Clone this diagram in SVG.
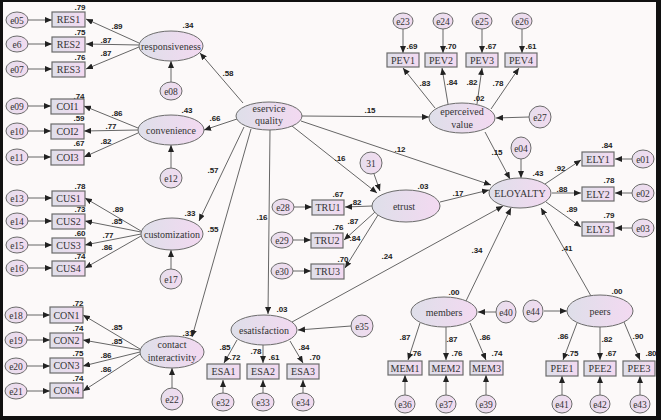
<svg xmlns="http://www.w3.org/2000/svg" width="661" height="420" viewBox="0 0 661 420">
<defs>
<linearGradient id="g" x1="0" y1="0" x2="1" y2="0">
<stop offset="0" stop-color="#dedfe9"/>
<stop offset="1" stop-color="#f3d9f1"/>
</linearGradient>
<linearGradient id="ge" x1="0" y1="0" x2="1" y2="0">
<stop offset="0" stop-color="#e6deec"/>
<stop offset="1" stop-color="#f2dbf0"/>
</linearGradient>
<marker id="a" markerUnits="userSpaceOnUse" markerWidth="7" markerHeight="6" refX="7" refY="3" orient="auto">
<path d="M0,0 L7,3 L0,6 z" fill="#222"/>
</marker>
</defs>
<style>
.lv{fill:url(#g);stroke:#6b6b6b;stroke-width:1}
.er{fill:url(#ge);stroke:#6b6b6b;stroke-width:1}
.bx{fill:url(#g);stroke:#6b6b6b;stroke-width:1.2}
.t{font-family:"Liberation Serif","DejaVu Serif",serif;font-size:10px;fill:#333;text-anchor:middle}
.te{font-family:"Liberation Serif","DejaVu Serif",serif;font-size:9.5px;fill:#333;text-anchor:middle}
.c{font-family:"Liberation Sans",Arial,sans-serif;font-size:8px;font-weight:bold;fill:#222;text-anchor:middle}
.ln{stroke:#666;stroke-width:1;fill:none;marker-end:url(#a)}
</style>
<rect x="0" y="0" width="661" height="420" fill="#111"/>
<rect x="3" y="2" width="653" height="414" fill="#fcf9f9"/>

<g id="connectors">
<line class="ln" x1="28" y1="20" x2="52" y2="20"/>
<line class="ln" x1="28" y1="44" x2="52" y2="44"/>
<line class="ln" x1="28" y1="69" x2="52" y2="69"/>
<line class="ln" x1="28" y1="106" x2="51" y2="106"/>
<line class="ln" x1="28" y1="131" x2="51" y2="131"/>
<line class="ln" x1="28" y1="157" x2="51" y2="157"/>
<line class="ln" x1="28" y1="198" x2="52" y2="198"/>
<line class="ln" x1="28" y1="221" x2="52" y2="221"/>
<line class="ln" x1="28" y1="245" x2="52" y2="245"/>
<line class="ln" x1="28" y1="268" x2="52" y2="268"/>
<line class="ln" x1="27" y1="315" x2="50" y2="315"/>
<line class="ln" x1="27" y1="340" x2="50" y2="340"/>
<line class="ln" x1="27" y1="366" x2="50" y2="366"/>
<line class="ln" x1="27" y1="391" x2="50" y2="391"/>
<line class="ln" x1="139" y1="43" x2="86" y2="19"/>
<line class="ln" x1="139" y1="45" x2="86" y2="44"/>
<line class="ln" x1="139" y1="47" x2="86" y2="69"/>
<line class="ln" x1="138" y1="128" x2="84" y2="106"/>
<line class="ln" x1="138" y1="130" x2="84" y2="131"/>
<line class="ln" x1="138" y1="133" x2="84" y2="157"/>
<line class="ln" x1="141" y1="231" x2="85" y2="198"/>
<line class="ln" x1="141" y1="232" x2="85" y2="221"/>
<line class="ln" x1="141" y1="234" x2="85" y2="245"/>
<line class="ln" x1="141" y1="236" x2="85" y2="268"/>
<line class="ln" x1="140" y1="349" x2="83" y2="315"/>
<line class="ln" x1="140" y1="350" x2="83" y2="340"/>
<line class="ln" x1="140" y1="352" x2="83" y2="366"/>
<line class="ln" x1="140" y1="354" x2="83" y2="391"/>
<line class="ln" x1="171" y1="82" x2="171" y2="61"/>
<line class="ln" x1="171" y1="168" x2="171" y2="145"/>
<line class="ln" x1="171" y1="269" x2="171" y2="250"/>
<line class="ln" x1="172" y1="388" x2="172" y2="368"/>
<line class="ln" x1="243" y1="103" x2="200" y2="53"/>
<line class="ln" x1="237" y1="119" x2="204" y2="130"/>
<line class="ln" x1="244" y1="127" x2="199" y2="221"/>
<line class="ln" x1="251" y1="129" x2="192" y2="337"/>
<line class="ln" x1="270" y1="130" x2="268" y2="314"/>
<line class="ln" x1="292" y1="126" x2="377" y2="193"/>
<line class="ln" x1="302" y1="116" x2="429" y2="117"/>
<line class="ln" x1="301" y1="121" x2="491" y2="185"/>
<line class="ln" x1="403" y1="29" x2="403" y2="53"/>
<line class="ln" x1="443" y1="29" x2="443" y2="53"/>
<line class="ln" x1="482" y1="29" x2="482" y2="53"/>
<line class="ln" x1="522" y1="29" x2="522" y2="53"/>
<line class="ln" x1="435" y1="108" x2="403" y2="68"/>
<line class="ln" x1="448" y1="104" x2="442" y2="68"/>
<line class="ln" x1="477" y1="104" x2="482" y2="68"/>
<line class="ln" x1="491" y1="109" x2="519" y2="68"/>
<line class="ln" x1="529" y1="117" x2="496" y2="118"/>
<line class="ln" x1="485" y1="132" x2="510" y2="179"/>
<line class="ln" x1="374" y1="174" x2="380" y2="191"/>
<line class="ln" x1="372" y1="206" x2="345" y2="207"/>
<line class="ln" x1="375" y1="212" x2="344" y2="240"/>
<line class="ln" x1="378" y1="215" x2="345" y2="268"/>
<line class="ln" x1="294" y1="207" x2="312" y2="207"/>
<line class="ln" x1="293" y1="240" x2="311" y2="240"/>
<line class="ln" x1="293" y1="271" x2="311" y2="271"/>
<line class="ln" x1="440" y1="202" x2="489" y2="190"/>
<line class="ln" x1="292" y1="322" x2="503" y2="206"/>
<line class="ln" x1="351" y1="326" x2="298" y2="330"/>
<line class="ln" x1="237" y1="340" x2="224" y2="363"/>
<line class="ln" x1="263" y1="345" x2="263" y2="363"/>
<line class="ln" x1="290" y1="341" x2="303" y2="363"/>
<line class="ln" x1="223" y1="394" x2="223" y2="380"/>
<line class="ln" x1="263" y1="394" x2="263" y2="380"/>
<line class="ln" x1="303" y1="394" x2="303" y2="380"/>
<line class="ln" x1="521" y1="159" x2="521" y2="178"/>
<line class="ln" x1="545" y1="184" x2="581" y2="160"/>
<line class="ln" x1="552" y1="193" x2="581" y2="193"/>
<line class="ln" x1="546" y1="202" x2="581" y2="227"/>
<line class="ln" x1="632" y1="159" x2="615" y2="159"/>
<line class="ln" x1="632" y1="193" x2="615" y2="193"/>
<line class="ln" x1="632" y1="228" x2="615" y2="228"/>
<line class="ln" x1="466" y1="301" x2="511" y2="208"/>
<line class="ln" x1="591" y1="296" x2="541" y2="208"/>
<line class="ln" x1="496" y1="312" x2="478" y2="312"/>
<line class="ln" x1="544" y1="311" x2="567" y2="311"/>
<line class="ln" x1="420" y1="323" x2="408" y2="360"/>
<line class="ln" x1="446" y1="327" x2="446" y2="360"/>
<line class="ln" x1="470" y1="323" x2="486" y2="360"/>
<line class="ln" x1="577" y1="323" x2="563" y2="360"/>
<line class="ln" x1="600" y1="327" x2="600" y2="360"/>
<line class="ln" x1="624" y1="322" x2="640" y2="360"/>
<line class="ln" x1="405" y1="395" x2="405" y2="375"/>
<line class="ln" x1="446" y1="395" x2="446" y2="375"/>
<line class="ln" x1="486" y1="395" x2="486" y2="375"/>
<line class="ln" x1="562" y1="395" x2="562" y2="376"/>
<line class="ln" x1="600" y1="395" x2="600" y2="376"/>
<line class="ln" x1="640" y1="395" x2="640" y2="376"/>
</g>

<g id="coefficients">
<text class="c" x="80" y="10">.79</text><text class="c" x="80" y="35">.75</text><text class="c" x="80" y="60">.76</text>
<text class="c" x="117" y="29">.89</text><text class="c" x="106" y="43">.87</text><text class="c" x="106" y="56">.87</text>
<text class="c" x="188" y="28">.34</text>
<text class="c" x="79" y="99">.74</text><text class="c" x="79" y="121">.59</text><text class="c" x="79" y="146">.67</text>
<text class="c" x="117" y="116">.86</text><text class="c" x="111" y="129">.77</text><text class="c" x="106" y="144">.82</text>
<text class="c" x="187" y="113">.43</text><text class="c" x="215" y="121">.66</text>
<text class="c" x="80" y="189">.78</text><text class="c" x="80" y="212">.73</text><text class="c" x="80" y="236">.60</text><text class="c" x="80" y="259">.74</text>
<text class="c" x="118" y="212">.89</text><text class="c" x="117" y="224">.85</text><text class="c" x="108" y="238">.77</text><text class="c" x="107" y="250">.86</text>
<text class="c" x="190" y="216">.33</text><text class="c" x="213" y="173">.57</text><text class="c" x="213" y="232">.55</text>
<text class="c" x="78" y="306">.72</text><text class="c" x="78" y="331">.74</text><text class="c" x="78" y="356">.75</text><text class="c" x="78" y="381">.74</text>
<text class="c" x="117" y="330">.85</text><text class="c" x="117" y="344">.85</text><text class="c" x="106" y="358">.86</text><text class="c" x="106" y="372">.86</text>
<text class="c" x="188" y="336">.31</text>
<text class="c" x="228" y="76">.58</text><text class="c" x="370" y="113">.15</text><text class="c" x="400" y="152">.12</text>
<text class="c" x="340" y="161">.16</text><text class="c" x="262" y="220">.16</text>
<text class="c" x="423" y="189">.03</text><text class="c" x="338" y="197">.67</text><text class="c" x="356" y="205">.82</text>
<text class="c" x="353" y="224">.87</text><text class="c" x="338" y="230">.76</text><text class="c" x="355" y="241">.84</text><text class="c" x="343" y="262">.70</text>
<text class="c" x="458" y="196">.17</text><text class="c" x="387" y="259">.24</text>
<text class="c" x="282" y="312">.03</text><text class="c" x="225" y="350">.85</text><text class="c" x="235" y="360">.72</text>
<text class="c" x="256" y="354">.78</text><text class="c" x="274" y="360">.61</text><text class="c" x="304" y="350">.84</text><text class="c" x="315" y="360">.70</text>
<text class="c" x="412" y="49">.69</text><text class="c" x="451" y="49">.70</text><text class="c" x="491" y="49">.67</text><text class="c" x="531" y="49">.61</text>
<text class="c" x="425" y="86">.83</text><text class="c" x="452" y="85">.84</text><text class="c" x="472" y="85">.82</text><text class="c" x="498" y="86">.78</text>
<text class="c" x="479" y="101">.02</text>
<text class="c" x="538" y="176">.43</text><text class="c" x="497" y="155">.15</text>
<text class="c" x="560" y="171">.92</text><text class="c" x="562" y="192">.88</text><text class="c" x="572" y="212">.89</text>
<text class="c" x="607" y="148">.84</text><text class="c" x="609" y="183">.78</text><text class="c" x="609" y="218">.79</text>
<text class="c" x="454" y="295">.00</text><text class="c" x="477" y="253">.34</text>
<text class="c" x="416" y="356">.76</text><text class="c" x="457" y="356">.76</text><text class="c" x="497" y="356">.74</text>
<text class="c" x="405" y="340">.87</text><text class="c" x="452" y="342">.87</text><text class="c" x="485" y="340">.86</text>
<text class="c" x="617" y="294">.00</text><text class="c" x="567" y="251">.41</text>
<text class="c" x="573" y="356">.75</text><text class="c" x="611" y="356">.67</text><text class="c" x="651" y="356">.80</text>
<text class="c" x="563" y="339">.86</text><text class="c" x="607" y="342">.82</text><text class="c" x="638" y="339">.90</text>
</g>

<g id="responsiveness"><ellipse class="lv" cx="171" cy="46" rx="32" ry="15"/><text class="t" x="171" y="49.5">responsiveness</text></g>
<g id="convenience"><ellipse class="lv" cx="171" cy="130" rx="33" ry="15"/><text class="t" x="171" y="133.5">convenience</text></g>
<g id="customization"><ellipse class="lv" cx="172" cy="234" rx="31" ry="16"/><text class="t" x="172" y="237.5">customization</text></g>
<g id="contact"><ellipse class="lv" cx="172" cy="352" rx="32" ry="16"/><text class="t" x="172" y="348">contact</text><text class="t" x="172" y="361">interactivity</text></g>
<g id="eservice"><ellipse class="lv" cx="269" cy="116" rx="33" ry="14"/><text class="t" x="269" y="112">eservice</text><text class="t" x="269" y="124">quality</text></g>
<g id="eperceived"><ellipse class="lv" cx="462" cy="118" rx="33" ry="15"/><text class="t" x="462" y="115">eperceived</text><text class="t" x="462" y="127.5">value</text></g>
<g id="etrust"><ellipse class="lv" cx="406" cy="206" rx="34" ry="16"/><text class="t" x="404" y="209.5">etrust</text></g>
<g id="eloyalty"><ellipse class="lv" cx="520" cy="193" rx="31" ry="15"/><text class="t" x="520" y="196.5">ELOYALTY</text></g>
<g id="esatisfaction"><ellipse class="lv" cx="264" cy="330" rx="33" ry="15"/><text class="t" x="264" y="333.5">esatisfaction</text></g>
<g id="members"><ellipse class="lv" cx="444" cy="312" rx="33" ry="15"/><text class="t" x="444" y="315.5">members</text></g>
<g id="peers"><ellipse class="lv" cx="600" cy="311" rx="33" ry="16"/><text class="t" x="600" y="314.5">peers</text></g>

<g id="RES1"><rect class="bx" x="52" y="12" width="33" height="15"/><text class="t" x="68.5" y="23">RES1</text></g>
<g id="RES2"><rect class="bx" x="52" y="37" width="33" height="15"/><text class="t" x="68.5" y="48">RES2</text></g>
<g id="RES3"><rect class="bx" x="52" y="62" width="33" height="15"/><text class="t" x="68.5" y="73">RES3</text></g>
<g id="COI1"><rect class="bx" x="51" y="99" width="33" height="15"/><text class="t" x="67.5" y="110">COI1</text></g>
<g id="COI2"><rect class="bx" x="51" y="124" width="33" height="15"/><text class="t" x="67.5" y="135">COI2</text></g>
<g id="COI3"><rect class="bx" x="51" y="150" width="33" height="15"/><text class="t" x="67.5" y="161">COI3</text></g>
<g id="CUS1"><rect class="bx" x="52" y="191" width="33" height="15"/><text class="t" x="68.5" y="202">CUS1</text></g>
<g id="CUS2"><rect class="bx" x="52" y="214" width="33" height="15"/><text class="t" x="68.5" y="225">CUS2</text></g>
<g id="CUS3"><rect class="bx" x="52" y="238" width="33" height="15"/><text class="t" x="68.5" y="249">CUS3</text></g>
<g id="CUS4"><rect class="bx" x="52" y="261" width="33" height="15"/><text class="t" x="68.5" y="272">CUS4</text></g>
<g id="CON1"><rect class="bx" x="50" y="307" width="33" height="16"/><text class="t" x="66.5" y="318.5">CON1</text></g>
<g id="CON2"><rect class="bx" x="50" y="333" width="33" height="15"/><text class="t" x="66.5" y="344">CON2</text></g>
<g id="CON3"><rect class="bx" x="50" y="358" width="33" height="15"/><text class="t" x="66.5" y="369">CON3</text></g>
<g id="CON4"><rect class="bx" x="50" y="383" width="33" height="15"/><text class="t" x="66.5" y="394">CON4</text></g>
<g id="PEV1"><rect class="bx" x="387" y="53" width="32" height="14"/><text class="t" x="403" y="63.5">PEV1</text></g>
<g id="PEV2"><rect class="bx" x="425" y="53" width="32" height="14"/><text class="t" x="441" y="63.5">PEV2</text></g>
<g id="PEV3"><rect class="bx" x="466" y="53" width="32" height="14"/><text class="t" x="482" y="63.5">PEV3</text></g>
<g id="PEV4"><rect class="bx" x="505" y="53" width="32" height="14"/><text class="t" x="521" y="63.5">PEV4</text></g>
<g id="ELY1"><rect class="bx" x="582" y="152" width="32" height="14"/><text class="t" x="598" y="162.5">ELY1</text></g>
<g id="ELY2"><rect class="bx" x="582" y="187" width="32" height="14"/><text class="t" x="598" y="197.5">ELY2</text></g>
<g id="ELY3"><rect class="bx" x="582" y="222" width="32" height="14"/><text class="t" x="598" y="232.5">ELY3</text></g>
<g id="TRU1"><rect class="bx" x="312" y="200" width="32" height="15"/><text class="t" x="328" y="211">TRU1</text></g>
<g id="TRU2"><rect class="bx" x="311" y="233" width="32" height="15"/><text class="t" x="327" y="244">TRU2</text></g>
<g id="TRU3"><rect class="bx" x="311" y="264" width="33" height="15"/><text class="t" x="327.5" y="275">TRU3</text></g>
<g id="ESA1"><rect class="bx" x="207" y="364" width="33" height="15"/><text class="t" x="223.5" y="375">ESA1</text></g>
<g id="ESA2"><rect class="bx" x="247" y="364" width="32" height="15"/><text class="t" x="263" y="375">ESA2</text></g>
<g id="ESA3"><rect class="bx" x="287" y="364" width="32" height="15"/><text class="t" x="303" y="375">ESA3</text></g>
<g id="MEM1"><rect class="bx" x="388" y="361" width="34" height="14"/><text class="t" x="405" y="371.5">MEM1</text></g>
<g id="MEM2"><rect class="bx" x="429" y="361" width="34" height="14"/><text class="t" x="446" y="371.5">MEM2</text></g>
<g id="MEM3"><rect class="bx" x="470" y="361" width="33" height="14"/><text class="t" x="486.5" y="371.5">MEM3</text></g>
<g id="PEE1"><rect class="bx" x="546" y="361" width="32" height="15"/><text class="t" x="562" y="372">PEE1</text></g>
<g id="PEE2"><rect class="bx" x="584" y="361" width="32" height="15"/><text class="t" x="600" y="372">PEE2</text></g>
<g id="PEE3"><rect class="bx" x="623" y="361" width="32" height="15"/><text class="t" x="639" y="372">PEE3</text></g>

<g id="e05"><ellipse class="er" cx="17" cy="20" rx="11" ry="8"/><text class="te" x="17" y="23.5">e05</text></g>
<g id="e6"><ellipse class="er" cx="17" cy="44" rx="11" ry="8"/><text class="te" x="17" y="47.5">e6</text></g>
<g id="e07"><ellipse class="er" cx="17" cy="69" rx="11" ry="8"/><text class="te" x="17" y="72.5">e07</text></g>
<g id="e09"><ellipse class="er" cx="17" cy="106" rx="11" ry="8"/><text class="te" x="17" y="109.5">e09</text></g>
<g id="e10"><ellipse class="er" cx="17" cy="131" rx="11" ry="8"/><text class="te" x="17" y="134.5">e10</text></g>
<g id="e11"><ellipse class="er" cx="17" cy="157" rx="11" ry="8"/><text class="te" x="17" y="160.5">e11</text></g>
<g id="e13"><ellipse class="er" cx="17" cy="198" rx="11" ry="8"/><text class="te" x="17" y="201.5">e13</text></g>
<g id="e14"><ellipse class="er" cx="17" cy="221" rx="11" ry="8"/><text class="te" x="17" y="224.5">e14</text></g>
<g id="e15"><ellipse class="er" cx="17" cy="245" rx="11" ry="8"/><text class="te" x="17" y="248.5">e15</text></g>
<g id="e16"><ellipse class="er" cx="17" cy="268" rx="11" ry="8"/><text class="te" x="17" y="271.5">e16</text></g>
<g id="e18"><ellipse class="er" cx="16" cy="315" rx="11" ry="8"/><text class="te" x="16" y="318.5">e18</text></g>
<g id="e19"><ellipse class="er" cx="16" cy="340" rx="11" ry="8"/><text class="te" x="16" y="343.5">e19</text></g>
<g id="e20"><ellipse class="er" cx="16" cy="366" rx="11" ry="8"/><text class="te" x="16" y="369.5">e20</text></g>
<g id="e21"><ellipse class="er" cx="16" cy="391" rx="11" ry="8"/><text class="te" x="16" y="394.5">e21</text></g>
<g id="e08"><ellipse class="er" cx="171" cy="91" rx="11" ry="9"/><text class="te" x="171" y="94.5">e08</text></g>
<g id="e12"><ellipse class="er" cx="171" cy="178" rx="11" ry="10"/><text class="te" x="171" y="181.5">e12</text></g>
<g id="e17"><ellipse class="er" cx="171" cy="279" rx="11" ry="10"/><text class="te" x="171" y="282.5">e17</text></g>
<g id="e22"><ellipse class="er" cx="172" cy="399" rx="11" ry="11"/><text class="te" x="172" y="402.5">e22</text></g>
<g id="e23"><ellipse class="er" cx="403" cy="21" rx="10" ry="8"/><text class="te" x="403" y="24.5">e23</text></g>
<g id="e24"><ellipse class="er" cx="443" cy="21" rx="10" ry="8"/><text class="te" x="443" y="24.5">e24</text></g>
<g id="e25"><ellipse class="er" cx="482" cy="21" rx="10" ry="8"/><text class="te" x="482" y="24.5">e25</text></g>
<g id="e26"><ellipse class="er" cx="522" cy="21" rx="10" ry="8"/><text class="te" x="522" y="24.5">e26</text></g>
<g id="e27"><ellipse class="er" cx="540" cy="117" rx="11" ry="11"/><text class="te" x="540" y="120.5">e27</text></g>
<g id="e04"><ellipse class="er" cx="521" cy="148" rx="10" ry="11"/><text class="te" x="521" y="151.5">e04</text></g>
<g id="e01"><ellipse class="er" cx="643" cy="159" rx="11" ry="9"/><text class="te" x="643" y="162.5">e01</text></g>
<g id="e02"><ellipse class="er" cx="643" cy="193" rx="11" ry="9"/><text class="te" x="643" y="196.5">e02</text></g>
<g id="e03"><ellipse class="er" cx="643" cy="228" rx="11" ry="9"/><text class="te" x="643" y="231.5">e03</text></g>
<g id="e31"><ellipse class="er" cx="371" cy="163" rx="11" ry="11"/><text class="te" x="371" y="166.5">31</text></g>
<g id="e28"><ellipse class="er" cx="283" cy="207" rx="11" ry="8"/><text class="te" x="283" y="210.5">e28</text></g>
<g id="e29"><ellipse class="er" cx="282" cy="240" rx="11" ry="8"/><text class="te" x="282" y="243.5">e29</text></g>
<g id="e30"><ellipse class="er" cx="282" cy="271" rx="11" ry="8"/><text class="te" x="282" y="274.5">e30</text></g>
<g id="e35"><ellipse class="er" cx="362" cy="326" rx="11" ry="11"/><text class="te" x="362" y="329.5">e35</text></g>
<g id="e32"><ellipse class="er" cx="223" cy="402" rx="11" ry="9"/><text class="te" x="223" y="405.5">e32</text></g>
<g id="e33"><ellipse class="er" cx="263" cy="402" rx="11" ry="9"/><text class="te" x="263" y="405.5">e33</text></g>
<g id="e34"><ellipse class="er" cx="303" cy="402" rx="11" ry="9"/><text class="te" x="303" y="405.5">e34</text></g>
<g id="e40"><ellipse class="er" cx="506" cy="312" rx="10" ry="11"/><text class="te" x="506" y="315.5">e40</text></g>
<g id="e44"><ellipse class="er" cx="533" cy="311" rx="10" ry="11"/><text class="te" x="533" y="314.5">e44</text></g>
<g id="e36"><ellipse class="er" cx="405" cy="404" rx="10" ry="9"/><text class="te" x="405" y="407.5">e36</text></g>
<g id="e37"><ellipse class="er" cx="446" cy="404" rx="10" ry="9"/><text class="te" x="446" y="407.5">e37</text></g>
<g id="e39"><ellipse class="er" cx="486" cy="404" rx="10" ry="9"/><text class="te" x="486" y="407.5">e39</text></g>
<g id="e41"><ellipse class="er" cx="562" cy="404" rx="10" ry="9"/><text class="te" x="562" y="407.5">e41</text></g>
<g id="e42"><ellipse class="er" cx="600" cy="404" rx="10" ry="9"/><text class="te" x="600" y="407.5">e42</text></g>
<g id="e43"><ellipse class="er" cx="640" cy="404" rx="10" ry="9"/><text class="te" x="640" y="407.5">e43</text></g>
</svg>
